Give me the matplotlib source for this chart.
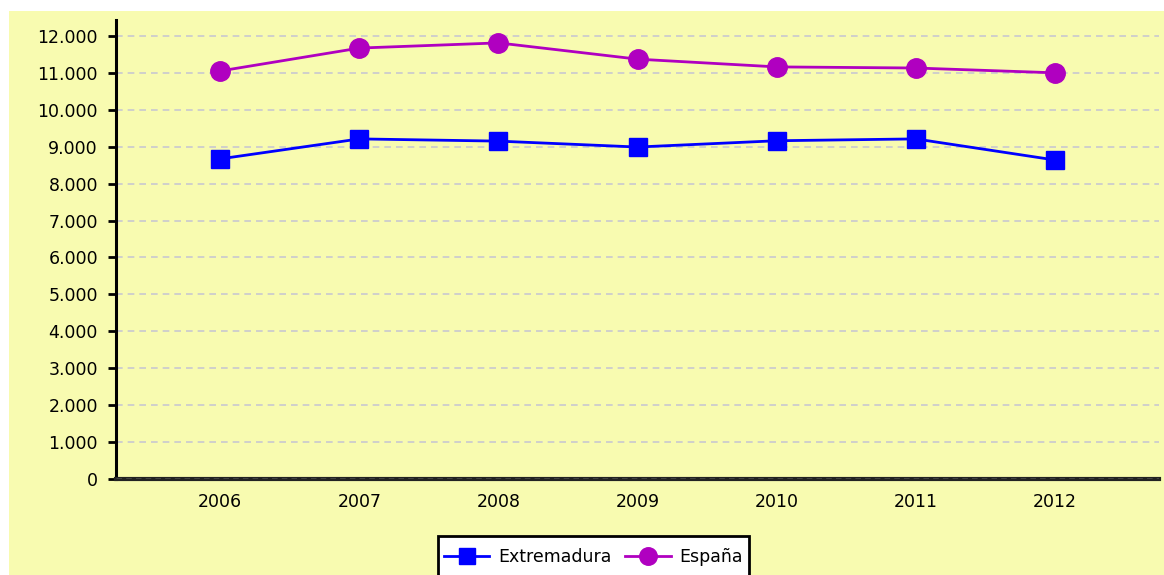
import matplotlib
matplotlib.use('Agg')
import matplotlib.pyplot as plt
from matplotlib.patches import Rectangle
from matplotlib.ticker import FuncFormatter

years = ['2006', '2007', '2008', '2009', '2010', '2011', '2012']
extremadura = [8670, 9210, 9150, 8990, 9160, 9210, 8640]
espana = [11050, 11670, 11810, 11370, 11160, 11130, 11000]

yellow = '#f8fbb0'
W, H = 1164, 575

fig = plt.figure(figsize=(W / 100, H / 100), dpi=100)
fig.patch.set_facecolor('white')
# yellow panel behind everything
fig.patches.append(Rectangle((9 / W, 0), 1, (H - 11) / H, transform=fig.transFigure,
                             facecolor=yellow, edgecolor='none', zorder=-10))

ax = fig.add_axes([116 / W, 1 - 479 / H, (1159 - 116) / W, (479 - 20) / H])
ax.set_facecolor('none')

x = range(len(years))
ax.plot(x, extremadura, color='#0000ff', lw=2, marker='s', markersize=13,
        label='Extremadura', zorder=4)
ax.plot(x, espana, color='#b000c0', lw=2, marker='o', markersize=14,
        label='España', zorder=4)

ax.set_xlim(-0.75, 6.75)
ax.set_ylim(0, 12430)
ax.set_yticks(range(0, 12001, 1000))
ax.yaxis.set_major_formatter(FuncFormatter(lambda v, p: f'{int(v):,}'.replace(',', '.')))
ax.set_xticks(list(x))
ax.set_xticklabels(years)

ax.grid(axis='y', color='#c8c8d0', linestyle=(0, (4, 3)), lw=1.2)
ax.set_axisbelow(True)
ax.axhline(0, color='#c8c8c8', linestyle=(0, (4, 3)), lw=1.0, zorder=3)

for s in ['top', 'right']:
    ax.spines[s].set_visible(False)
ax.spines['left'].set_linewidth(2.2)
ax.spines['bottom'].set_linewidth(3)
ax.spines['bottom'].set_color('#222222')

ax.tick_params(axis='y', length=6, width=2, labelsize=12.5, pad=7)
ax.tick_params(axis='x', length=0, labelsize=12.5, pad=10)

# legend box runs off the bottom edge, so draw the frame by hand
fig.patches.append(Rectangle((438 / W, 1 - 585 / H), (749 - 438) / W, 49 / H,
                             transform=fig.transFigure, facecolor='white',
                             edgecolor='black', lw=2, zorder=4))
leg = fig.legend(loc='center', bbox_to_anchor=(593.5 / W, 1 - 557 / H),
                 ncol=2, fontsize=12.5, frameon=False, handlelength=2.6,
                 columnspacing=0.8, handletextpad=0.5, borderpad=0,
                 borderaxespad=0, markerscale=0.9)
leg.set_zorder(5)

fig.savefig('out.png', dpi=100)
